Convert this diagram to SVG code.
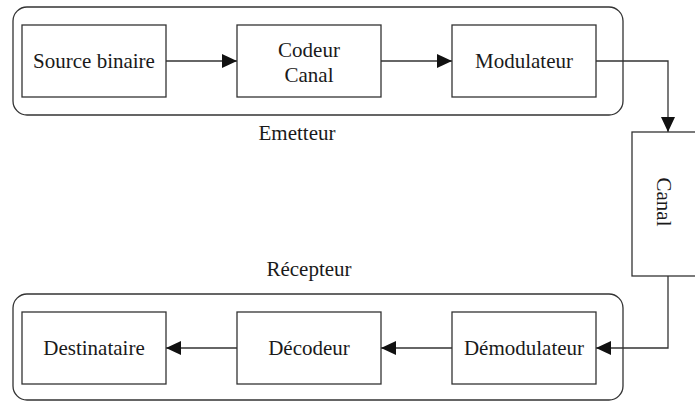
<svg xmlns="http://www.w3.org/2000/svg" width="695" height="401" viewBox="0 0 695 401">
<style>
.box{fill:#fff;stroke:#333;stroke-width:1.3}
.grp{fill:none;stroke:#333;stroke-width:1.3}
.t{font-family:"Liberation Serif","Times New Roman",serif;font-size:21px;fill:#1a1a1a;text-anchor:middle}
.c{fill:none;stroke:#333;stroke-width:1.3}
</style>
<defs>
<marker id="ah" viewBox="0 0 15 14" refX="15" refY="7" markerWidth="15" markerHeight="14" markerUnits="userSpaceOnUse" orient="auto">
<path d="M0,0 L15,7 L0,14 Z" fill="#111"/>
</marker>
</defs>
<g id="emetteur">
<rect class="grp" x="13" y="7" width="610" height="108" rx="14"/>
<text class="t" x="297" y="140">Emetteur</text>
</g>
<g id="recepteur">
<rect class="grp" x="13" y="294" width="610" height="106" rx="14"/>
<text class="t" x="309" y="276">Récepteur</text>
</g>
<g id="connectors">
<line class="c" x1="166" y1="61" x2="237" y2="61" marker-end="url(#ah)"/>
<line class="c" x1="381" y1="61" x2="452" y2="61" marker-end="url(#ah)"/>
<polyline class="c" points="596,61 668,61 668,132" marker-end="url(#ah)"/>
<polyline class="c" points="668,276 668,348 596,348" marker-end="url(#ah)"/>
<line class="c" x1="452" y1="348" x2="381" y2="348" marker-end="url(#ah)"/>
<line class="c" x1="237" y1="348" x2="166" y2="348" marker-end="url(#ah)"/>
</g>
<g id="source">
<rect class="box" x="22" y="25" width="144" height="72"/>
<text class="t" x="94" y="68">Source binaire</text>
</g>
<g id="codeur">
<rect class="box" x="237" y="25" width="144" height="72"/>
<text class="t" x="309" y="57">Codeur</text>
<text class="t" x="309" y="82">Canal</text>
</g>
<g id="modulateur">
<rect class="box" x="452" y="25" width="144" height="72"/>
<text class="t" x="524" y="68">Modulateur</text>
</g>
<g id="canal">
<rect class="box" x="632" y="132" width="70" height="144"/>
<text class="t" transform="translate(657,202) rotate(90)" x="0" y="0">Canal</text>
</g>
<g id="destinataire">
<rect class="box" x="22" y="312" width="144" height="72"/>
<text class="t" x="94" y="355">Destinataire</text>
</g>
<g id="decodeur">
<rect class="box" x="237" y="312" width="144" height="72"/>
<text class="t" x="309" y="355">Décodeur</text>
</g>
<g id="demodulateur">
<rect class="box" x="452" y="312" width="144" height="72"/>
<text class="t" x="524" y="355">Démodulateur</text>
</g>
</svg>
